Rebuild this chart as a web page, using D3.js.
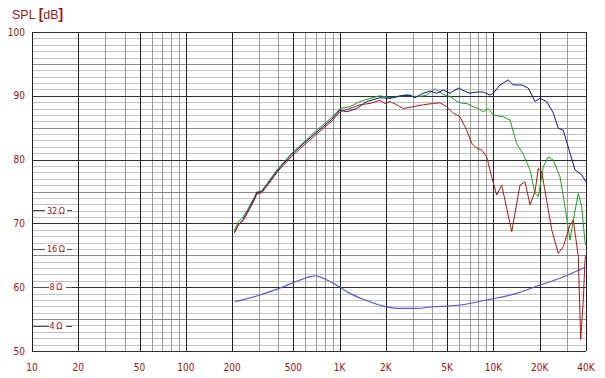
<!DOCTYPE html>
<html>
<head>
<meta charset="utf-8">
<script src="https://cdn.jsdelivr.net/npm/d3@7"></script>
<style>
body { margin: 0; background: #fff; }
.lbl { font: 10px "DejaVu Sans Condensed", sans-serif; fill: #9b1010; }
.title { font: 12.5px "Liberation Sans", Arial, sans-serif; fill: #a01818; }
</style>
</head>
<body>
<div id="chart"></div>
<script>
// ---- data ----
var xTicks = [10, 20, 50, 100, 200, 500, 1000, 2000, 5000, 10000, 20000, 40000];
var xTickLabels = ["10", "20", "50", "100", "200", "500", "1K", "2K", "5K", "10K", "20K", "40K"];
var yTicks = [50, 60, 70, 80, 90, 100];
var ohmTicks = [4, 8, 16, 32];

// on-axis (blue)
var blueFreq = [207, 220, 235, 254, 282, 289, 312, 336, 398, 488, 596, 724, 889, 1006, 1112, 1292, 1501, 1831, 2127, 2470, 2869, 3092, 3502, 3870, 4279, 4724, 5222, 5914, 6706, 7044, 7789, 8597, 9504, 9985, 11040, 12500, 13470, 15277, 16864, 18644, 20093, 22212, 24520, 26424, 28479, 31477, 33929, 37504, 40000];
var blueDb = [68.6, 69.8, 70.6, 72.0, 74.1, 74.8, 75.0, 76.0, 78.4, 80.8, 82.7, 84.5, 86.3, 87.8, 87.5, 88.0, 89.1, 89.7, 89.6, 90.0, 90.1, 89.7, 90.4, 90.75, 90.4, 90.9, 90.4, 91.2, 90.6, 90.4, 90.6, 90.6, 90.1, 90.4, 91.7, 92.5, 91.7, 91.7, 91.2, 89.1, 89.6, 89.1, 87.3, 84.9, 84.6, 81.0, 78.4, 77.6, 76.5];

// green
var greenFreq = [207, 220, 235, 254, 282, 289, 312, 336, 398, 488, 596, 724, 889, 1006, 1168, 1357, 1576, 1831, 2127, 2470, 2731, 3015, 3333, 3685, 4172, 4724, 5222, 5774, 6374, 6706, 7403, 7978, 8597, 9265, 9985, 11598, 12820, 14170, 15648, 17298, 18644, 19587, 21110, 22751, 24520, 27101, 29209, 31477, 33075, 35645, 37504, 39409, 40000];
var greenDb = [68.9, 70.3, 71.0, 72.3, 74.3, 74.9, 75.1, 76.2, 78.6, 81.0, 82.9, 84.8, 86.6, 88.0, 88.3, 89.1, 89.6, 90.0, 89.7, 89.9, 90.2, 89.9, 89.9, 90.1, 91.1, 90.2, 89.9, 89.1, 88.8, 88.8, 88.3, 88.0, 87.5, 88.0, 87.0, 86.7, 86.2, 82.5, 80.8, 78.4, 74.7, 74.2, 78.9, 80.45, 79.9, 77.3, 72.6, 67.4, 70.5, 74.7, 72.6, 67.1, 66.5];

// red
var redFreq = [207, 220, 235, 254, 282, 289, 312, 336, 398, 488, 596, 724, 889, 1006, 1168, 1357, 1576, 1831, 1973, 2127, 2351, 2596, 3015, 3502, 4067, 4496, 4971, 5487, 6066, 6706, 7226, 7789, 8393, 9045, 9748, 10505, 11324, 13152, 14894, 16052, 17298, 18644, 19587, 20609, 23940, 26424, 28479, 31477, 33075, 35645, 36947, 38422, 39409, 40000];
var redDb = [68.5, 69.8, 70.4, 71.8, 73.9, 74.6, 74.8, 75.8, 78.2, 80.5, 82.4, 84.2, 86.0, 87.5, 88.0, 88.6, 88.8, 89.3, 88.8, 89.1, 88.6, 88.0, 88.3, 88.6, 88.8, 88.9, 88.3, 87.3, 86.7, 84.6, 82.55, 81.8, 81.5, 80.45, 77.3, 74.45, 76.0, 68.7, 76.0, 76.5, 72.9, 75.0, 78.6, 78.1, 69.0, 65.3, 66.35, 69.75, 70.5, 64.8, 51.8, 58.0, 64.3, 65.0];

// impedance (ohm)
var impFreq = [209, 289, 353, 430, 553, 642, 692, 784, 910, 1006, 1168, 1426, 1924, 2470, 3171, 4067, 5096, 6066, 9504, 14170, 20093, 27101, 39409];
var impOhm = [6.16, 6.83, 7.38, 8.07, 9.11, 9.67, 9.84, 9.40, 8.58, 7.98, 7.16, 6.43, 5.69, 5.46, 5.46, 5.62, 5.69, 5.80, 6.43, 7.16, 8.32, 9.40, 11.46];

// ---- drawing ----
var W = 605, H = 378;
var svg = d3.select("#chart").append("svg").attr("width", W).attr("height", H);

var x = d3.scaleLog().domain([10, 40000]).range([32, 586]);
var y = d3.scaleLinear().domain([50, 100]).range([351, 32]);
// 8 ohm sits on 60 dB, 6.02 dB per doubling
var z = d3.scaleLog().domain([4, 32]).range([y(60 - 6.0206), y(60 + 12.0412)]);

var grid = svg.append("g").attr("shape-rendering", "crispEdges");

var dbLines = d3.range(50, 101);
grid.selectAll(".hminor").data(dbLines.filter(function(d) { return d % 5 != 0; }))
  .enter().append("line")
  .attr("x1", x(10)).attr("x2", x(40000))
  .attr("y1", function(d) { return Math.round(y(d)) + 0.5; })
  .attr("y2", function(d) { return Math.round(y(d)) + 0.5; })
  .attr("stroke", "#c0c0c0");

var vLines = [];
[10, 100, 1000, 10000].forEach(function(dec) {
  for (var k = 1; k < 10; k++) if (dec * k <= 40000) vLines.push(dec * k);
});
vLines.push(40000);
function isMajor(f) {
  var lead = Math.round(f / Math.pow(10, Math.floor(Math.log10(f) + 1e-9)));
  return lead == 1 || lead == 2 || lead == 5 || f == 40000;
}

grid.selectAll(".vminor").data(vLines.filter(function(f) { return !isMajor(f); }))
  .enter().append("line")
  .attr("x1", function(d) { return Math.round(x(d)) + 0.5; })
  .attr("x2", function(d) { return Math.round(x(d)) + 0.5; })
  .attr("y1", y(100)).attr("y2", y(50))
  .attr("stroke", "#9a9a9a");

grid.selectAll(".hmid").data(dbLines.filter(function(d) { return d % 5 == 0 && d % 10 != 0; }))
  .enter().append("line")
  .attr("x1", x(10)).attr("x2", x(40000))
  .attr("y1", function(d) { return Math.round(y(d)) + 0.5; })
  .attr("y2", function(d) { return Math.round(y(d)) + 0.5; })
  .attr("stroke", "#8a8a8a");

grid.selectAll(".vmajor").data(vLines.filter(isMajor))
  .enter().append("line")
  .attr("x1", function(d) { return Math.round(x(d)) + 0.5; })
  .attr("x2", function(d) { return Math.round(x(d)) + 0.5; })
  .attr("y1", y(100)).attr("y2", y(50))
  .attr("stroke", "#202020");

grid.selectAll(".hmajor").data(yTicks)
  .enter().append("line")
  .attr("x1", x(10)).attr("x2", x(40000))
  .attr("y1", function(d) { return Math.round(y(d)) + 0.5; })
  .attr("y2", function(d) { return Math.round(y(d)) + 0.5; })
  .attr("stroke", "#303030");

// impedance scale marks on the left
var oh = svg.append("g");
oh.selectAll("line").data(ohmTicks).enter().append("line")
  .attr("shape-rendering", "crispEdges")
  .attr("x1", x(10)).attr("x2", 72)
  .attr("y1", function(d) { return Math.round(z(d)) + 0.5; })
  .attr("y2", function(d) { return Math.round(z(d)) + 0.5; })
  .attr("stroke", "#505050");
oh.selectAll("rect").data(ohmTicks).enter().append("rect")
  .attr("x", function(d) { return d < 10 ? 49 : 45; })
  .attr("width", function(d) { return d < 10 ? 17 : 22; })
  .attr("y", function(d) { return z(d) - 5; })
  .attr("height", 10)
  .attr("fill", "#fff");
oh.selectAll("text").data(ohmTicks).enter().append("text")
  .attr("class", "lbl")
  .attr("x", 56).attr("y", function(d) { return z(d); })
  .attr("dy", "0.35em")
  .attr("text-anchor", "middle")
  .style("font-size", "9px")
  .text(function(d) { return d + "\u2009\u03a9"; });

// curves
var line = d3.line()
  .x(function(d) { return x(d[0]); })
  .y(function(d) { return y(d[1]); });

function series(fs, vs) { return fs.map(function(f, i) { return [f, vs[i]]; }); }

var impLine = d3.line()
  .x(function(d) { return x(d[0]); })
  .y(function(d) { return z(d[1]); })
  .curve(d3.curveMonotoneX);

svg.append("path").datum(series(impFreq, impOhm))
  .attr("d", impLine).attr("fill", "none")
  .attr("stroke", "#5656e0").attr("stroke-width", 1.2);

svg.append("path").datum(series(greenFreq, greenDb))
  .attr("d", line).attr("fill", "none")
  .attr("stroke", "#1aa01a").attr("stroke-width", 1);
svg.append("path").datum(series(blueFreq, blueDb))
  .attr("d", line).attr("fill", "none")
  .attr("stroke", "#10109a").attr("stroke-width", 1);
svg.append("path").datum(series(redFreq, redDb))
  .attr("d", line).attr("fill", "none")
  .attr("stroke", "#b01414").attr("stroke-width", 1);

// axis labels
svg.append("g").selectAll("text").data(yTicks).enter().append("text")
  .attr("class", "lbl")
  .attr("x", 25).attr("y", function(d) { return y(d); })
  .attr("dy", "0.35em")
  .attr("text-anchor", "end")
  .text(function(d) { return d; });

svg.append("g").selectAll("text").data(xTicks).enter().append("text")
  .attr("class", "lbl")
  .attr("x", function(d) { return x(d); })
  .attr("y", 367)
  .attr("dy", "0.35em")
  .attr("text-anchor", "middle")
  .text(function(d, i) { return xTickLabels[i]; });

var t = svg.append("text").attr("class", "title")
  .attr("x", 12).attr("y", 19);
t.append("tspan").text("SPL ");
t.append("tspan").attr("font-weight", "bold").attr("font-size", "14px").text("[");
t.append("tspan").text("dB");
t.append("tspan").attr("font-weight", "bold").attr("font-size", "14px").text("]");
</script>
</body>
</html>
